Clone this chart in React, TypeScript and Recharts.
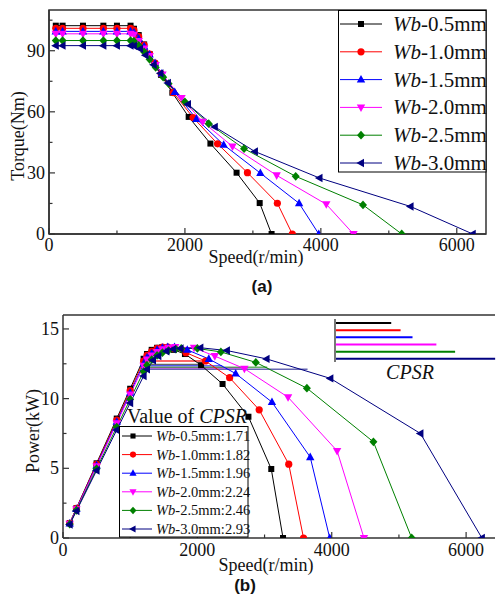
import React from 'react';
import { LineChart, Line, XAxis, YAxis, ReferenceArea, ReferenceLine, BarChart, Bar, Cell } from 'recharts';

// ---------- data ----------
const seriesNames = ['0.5', '1.0', '1.5', '2.0', '2.5', '3.0'];
const cpsrValues = [1.71, 1.82, 1.96, 2.24, 2.46, 2.93];
const colors = ['#000000', '#ff0000', '#0000ff', '#ff00ff', '#008000', '#000080'];
const shapes = ['square', 'circle', 'up', 'down', 'diamond', 'left'];

const speed05 = [100, 200, 500, 800, 1000, 1200, 1250, 1320, 1400, 1480, 1560, 1650, 1815, 2055, 2375, 2760, 3100, 3275];
const torque05 = [102.3, 102.3, 102.3, 102.3, 102.3, 102.3, 100.8, 97.7, 93.1, 88.4, 83.6, 78.1, 69.4, 57.5, 44.4, 30.1, 15.2, 0];
const power05 = [1.07, 2.14, 5.36, 8.57, 10.71, 12.86, 13.2, 13.5, 13.65, 13.7, 13.65, 13.5, 13.2, 12.4, 11.05, 8.7, 4.95, 0];

const speed10 = [100, 200, 500, 800, 1000, 1200, 1250, 1320, 1400, 1480, 1560, 1650, 1830, 2120, 2480, 2920, 3360, 3580];
const torque10 = [101, 101, 101, 101, 101, 101, 100.1, 96.9, 92.8, 88.4, 83.9, 78.7, 69.4, 57.2, 44.3, 30.1, 15.1, 0];
const power10 = [1.06, 2.12, 5.29, 8.46, 10.58, 12.69, 13.1, 13.4, 13.6, 13.7, 13.7, 13.6, 13.3, 12.7, 11.5, 9.2, 5.3, 0];

const speed15 = [100, 200, 500, 800, 1000, 1200, 1250, 1320, 1400, 1480, 1560, 1660, 1850, 2170, 2570, 3110, 3680, 3970];
const torque15 = [99.5, 99.5, 99.5, 99.5, 99.5, 99.5, 98.9, 95.9, 92.1, 88.1, 83.9, 78.8, 69.7, 56.5, 43.8, 29.9, 15.05, 0];
const power15 = [1.04, 2.08, 5.21, 8.34, 10.42, 12.5, 12.95, 13.25, 13.5, 13.65, 13.7, 13.7, 13.5, 12.85, 11.8, 9.75, 5.8, 0];

const speed20 = [100, 200, 500, 800, 1000, 1200, 1250, 1320, 1400, 1480, 1570, 1670, 1950, 2260, 2700, 3350, 4080, 4480];
const torque20 = [98.3, 98.3, 98.3, 98.3, 98.3, 98.3, 97.8, 94.8, 91.1, 87.4, 83.0, 78.3, 66.8, 55.1, 43.0, 28.8, 14.6, 0];
const power20 = [1.03, 2.06, 5.15, 8.24, 10.29, 12.35, 12.8, 13.1, 13.35, 13.55, 13.65, 13.7, 13.65, 13.05, 12.15, 10.1, 6.25, 0];

const speed25 = [100, 200, 500, 800, 1000, 1200, 1250, 1320, 1400, 1480, 1570, 1680, 1760, 2000, 2350, 2870, 3630, 4620, 5190];
const torque25 = [95, 95, 95, 95, 95, 95, 94.7, 92.6, 89.4, 85.8, 81.8, 77.0, 73.8, 64.9, 54.2, 41.9, 28.3, 14.3, 0];
const power25 = [0.99, 1.99, 4.97, 7.96, 9.95, 11.94, 12.4, 12.8, 13.1, 13.3, 13.45, 13.55, 13.6, 13.6, 13.35, 12.6, 10.75, 6.9, 0];

const speed30 = [100, 200, 500, 800, 1000, 1200, 1250, 1340, 1420, 1540, 1640, 1750, 2045, 2440, 3030, 3980, 5320, 6235];
const torque30 = [92.5, 92.5, 92.5, 92.5, 92.5, 92.5, 92.4, 90.9, 87.8, 83.1, 78.9, 74.2, 63.7, 52.6, 40.5, 27.5, 13.5, 0];
const power30 = [0.97, 1.94, 4.84, 7.75, 9.69, 11.62, 12.1, 12.75, 13.05, 13.4, 13.55, 13.6, 13.65, 13.45, 12.85, 11.45, 7.5, 0];

// constant-power range lines (speed from, speed to, power level)
const cpsrLineStart = [1165, 1190, 1195, 1205, 1240, 1250];
const cpsrLineEnd = [2060, 2140, 2370, 2750, 3040, 3640];
const cpsrLineLevel = [12.45, 12.7, 12.35, 12.2, 12.25, 12.1];

const speedTicks = [0, 1000, 2000, 3000, 4000, 5000, 6000];
const speedLabels = [0, 2000, 4000, 6000];
const torqueTicks = [0, 15, 30, 45, 60, 75, 90, 105];
const torqueLabels = [0, 30, 60, 90];
const powerTicks = [0, 2.5, 5, 7.5, 10, 12.5, 15];
const powerLabels = [0, 5, 10, 15];

const speedMax = 6430;
const torqueMax = 110;
const powerMax = 16;
const cpsrAxisMin = 1.05;
const cpsrAxisMax = 2.94;

// ---------- helpers ----------
const speeds = [speed05, speed10, speed15, speed20, speed25, speed30];
const torques = [torque05, torque10, torque15, torque20, torque25, torque30];
const powers = [power05, power10, power15, power20, power25, power30];
const rows = (sp: number[], vals: number[]) => sp.map((s, i) => ({ s, v: vals[i] }));

const SERIF = '"Liberation Serif", "Times New Roman", serif';
const SANS = '"Liberation Sans", Arial, sans-serif';
const AX = '#333333';

function Marker({ shape, cx, cy, color, k = 1 }: { shape: string; cx: number; cy: number; color: string; k?: number }) {
  if (cx == null || cy == null || isNaN(cx) || isNaN(cy)) return null;
  switch (shape) {
    case 'square':
      return <rect x={cx - 3 * k} y={cy - 3 * k} width={6 * k} height={6 * k} fill={color} />;
    case 'circle':
      return <circle cx={cx} cy={cy} r={3.6 * k} fill={color} />;
    case 'up':
      return <polygon points={`${cx},${cy - 4.6 * k} ${cx - 4.2 * k},${cy + 3 * k} ${cx + 4.2 * k},${cy + 3 * k}`} fill={color} />;
    case 'down':
      return <polygon points={`${cx},${cy + 4.6 * k} ${cx - 4.2 * k},${cy - 3 * k} ${cx + 4.2 * k},${cy - 3 * k}`} fill={color} />;
    case 'diamond':
      return <polygon points={`${cx},${cy - 4.4 * k} ${cx + 4 * k},${cy} ${cx},${cy + 4.4 * k} ${cx - 4 * k},${cy}`} fill={color} />;
    default:
      return <polygon points={`${cx - 4.6 * k},${cy} ${cx + 3 * k},${cy - 4.2 * k} ${cx + 3 * k},${cy + 4.2 * k}`} fill={color} />;
  }
}

const makeYTick = (labels: number[]) => (p: any) => {
  const { x, y, payload } = p;
  const v = payload.value;
  const major = labels.includes(v);
  return (
    <g>
      <line x1={x} x2={x + (major ? 6 : 3.5)} y1={y} y2={y} stroke={AX} strokeWidth={1.2} />
      {major && (
        <text x={x - 4} y={y + 6} textAnchor="end" fontFamily={SERIF} fontSize={18} fill="#111">
          {v}
        </text>
      )}
    </g>
  );
};

const makeXTick = (labels: number[], dy: number) => (p: any) => {
  const { x, y, payload } = p;
  const v = payload.value;
  const major = labels.includes(v);
  return (
    <g>
      <line x1={x} x2={x} y1={y} y2={y - (major ? 6 : 3.5)} stroke={AX} strokeWidth={1.2} />
      {major && (
        <text x={x} y={y + dy} textAnchor="middle" fontFamily={SERIF} fontSize={18} fill="#111">
          {v}
        </text>
      )}
    </g>
  );
};

const dotFor = (i: number) => (p: any) => (
  <Marker key={`d-${i}-${p.index}`} shape={shapes[i]} cx={p.cx} cy={p.cy} color={colors[i]} />
);

function TopLegend() {
  return (
    <svg style={{ position: 'absolute', left: 338, top: 10 }} width={158} height={172}>
      <rect x={0.5} y={0.5} width={147.5} height={161.5} fill="#fff" stroke="#000" strokeWidth={1} />
      {seriesNames.map((n, i) => {
        const cy = 14 + i * 27.8;
        return (
          <g key={i}>
            <line x1={2} x2={44} y1={cy} y2={cy} stroke={colors[i]} strokeWidth={1} />
            <Marker shape={shapes[i]} cx={23} cy={cy} color={colors[i]} />
            <text x={55} y={cy + 7} fontFamily={SERIF} fontSize={21} fill="#111">
              <tspan fontStyle="italic">Wb</tspan>-{n}mm
            </text>
          </g>
        );
      })}
    </svg>
  );
}

function BottomLegend() {
  return (
    <svg style={{ position: 'absolute', left: 119, top: 426 }} width={134} height={116}>
      <rect x={0.5} y={0.5} width={128.5} height={110.5} fill="#fff" stroke="#000" strokeWidth={1} />
      {seriesNames.map((n, i) => {
        const cy = 10 + i * 18.6;
        return (
          <g key={i}>
            <line x1={3} x2={33} y1={cy} y2={cy} stroke={colors[i]} strokeWidth={1} />
            <Marker shape={shapes[i]} cx={14} cy={cy} color={colors[i]} k={0.85} />
            <text x={37} y={cy + 5} fontFamily={SERIF} fontSize={14.5} fill="#111">
              <tspan fontStyle="italic">Wb</tspan>-{n}mm:{cpsrValues[i].toFixed(2)}
            </text>
          </g>
        );
      })}
    </svg>
  );
}

const insetData = seriesNames.map((n, i) => ({ name: n, cpsr: cpsrValues[i] }));

export default function App() {
  return (
    <div style={{ position: 'absolute', left: 0, top: 0, width: 496, height: 596, background: '#fff', overflow: 'hidden' }}>
      {/* (a) Torque */}
      <div style={{ position: 'absolute', left: 0, top: 0 }}>
        <LineChart width={496} height={290} margin={{ top: 10, right: 10, bottom: 0, left: 0 }}>
          <XAxis
            type="number"
            dataKey="s"
            domain={[0, speedMax]}
            ticks={speedTicks}
            interval={0}
            allowDataOverflow
            height={56}
            tickSize={0}
            tickMargin={0}
            tickLine={false}
            axisLine={{ stroke: AX, strokeWidth: 1.5 }}
            tick={makeXTick(speedLabels, 17)}
          />
          <YAxis
            type="number"
            domain={[0, torqueMax]}
            ticks={torqueTicks}
            interval={0}
            allowDataOverflow
            width={49}
            tickSize={0}
            tickMargin={0}
            tickLine={false}
            axisLine={{ stroke: AX, strokeWidth: 1.5 }}
            tick={makeYTick(torqueLabels)}
          />
          <ReferenceArea x1={0} x2={speedMax} y1={0} y2={torqueMax} fill="none" stroke={AX} strokeWidth={1.5} ifOverflow="visible" />
          {seriesNames.map((n, i) => (
            <Line
              key={n}
              data={rows(speeds[i], torques[i])}
              dataKey="v"
              type="linear"
              stroke={colors[i]}
              strokeWidth={1}
              dot={dotFor(i)}
              activeDot={false}
              isAnimationActive={false}
            />
          ))}
        </LineChart>
      </div>
      <TopLegend />

      {/* (b) Power */}
      <div style={{ position: 'absolute', left: 0, top: 300 }}>
        <LineChart width={496} height={296} margin={{ top: 15, right: 1, bottom: 0, left: 0 }}>
          <XAxis
            type="number"
            dataKey="s"
            domain={[0, speedMax]}
            ticks={speedTicks}
            interval={0}
            allowDataOverflow
            height={58}
            tickSize={0}
            tickMargin={0}
            tickLine={false}
            axisLine={{ stroke: AX, strokeWidth: 1.5 }}
            tick={makeXTick(speedLabels, 18)}
          />
          <YAxis
            type="number"
            domain={[0, powerMax]}
            ticks={powerTicks}
            interval={0}
            allowDataOverflow
            width={63}
            tickSize={0}
            tickMargin={0}
            tickLine={false}
            axisLine={{ stroke: AX, strokeWidth: 1.5 }}
            tick={makeYTick(powerLabels)}
          />
          <ReferenceLine y={powerMax} stroke={AX} strokeWidth={1.5} ifOverflow="visible" />
          {seriesNames.map((n, i) => (
            <ReferenceLine
              key={`c-${n}`}
              segment={[
                { x: cpsrLineStart[i], y: cpsrLineLevel[i] },
                { x: cpsrLineEnd[i], y: cpsrLineLevel[i] },
              ]}
              stroke={colors[i]}
              strokeOpacity={0.6}
              strokeWidth={i === 1 ? 2.2 : 1.5}
            />
          ))}
          {seriesNames.map((n, i) => (
            <Line
              key={n}
              data={rows(speeds[i], powers[i])}
              dataKey="v"
              type="linear"
              stroke={colors[i]}
              strokeWidth={1}
              dot={dotFor(i)}
              activeDot={false}
              isAnimationActive={false}
            />
          ))}
        </LineChart>
      </div>

      {/* CPSR inset */}
      <div style={{ position: 'absolute', left: 333, top: 319 }}>
        <BarChart width={163} height={43} data={insetData} layout="vertical" margin={{ top: 0, right: 0, bottom: 0, left: 2 }}>
          <XAxis type="number" domain={[cpsrAxisMin, cpsrAxisMax]} hide allowDataOverflow />
          <YAxis type="category" dataKey="name" hide />
          <ReferenceLine x={cpsrAxisMin} stroke="#777" strokeWidth={2} ifOverflow="visible" />
          <Bar dataKey="cpsr" barSize={2} isAnimationActive={false}>
            {insetData.map((d, i) => (
              <Cell key={d.name} fill={colors[i]} />
            ))}
          </Bar>
        </BarChart>
      </div>
      <BottomLegend />

      {/* texts */}
      <svg style={{ position: 'absolute', left: 0, top: 0, pointerEvents: 'none' }} width={496} height={596}>
        <text x={24} y={136} transform="rotate(-90 24 136)" textAnchor="middle" fontFamily={SERIF} fontSize={18} fill="#111">
          Torque(Nm)
        </text>
        <text x={256} y={263} textAnchor="middle" fontFamily={SERIF} fontSize={18} fill="#111">
          Speed(r/min)
        </text>
        <text x={262} y={292} textAnchor="middle" fontFamily={SANS} fontWeight="bold" fontSize={17} fill="#111">
          (a)
        </text>
        <text x={39} y={431} transform="rotate(-90 39 431)" textAnchor="middle" fontFamily={SERIF} fontSize={18} fill="#111">
          Power(kW)
        </text>
        <text x={266} y={571} textAnchor="middle" fontFamily={SERIF} fontSize={18} fill="#111">
          Speed(r/min)
        </text>
        <text x={245} y={591} textAnchor="middle" fontFamily={SANS} fontWeight="bold" fontSize={17} fill="#111">
          (b)
        </text>
        <text x={127} y={423} fontFamily={SERIF} fontSize={20} fill="#111">
          Value of <tspan fontStyle="italic">CPSR</tspan>
        </text>
        <text x={410} y={379} textAnchor="middle" fontFamily={SERIF} fontStyle="italic" fontSize={20} fill="#111">
          CPSR
        </text>
      </svg>
    </div>
  );
}
